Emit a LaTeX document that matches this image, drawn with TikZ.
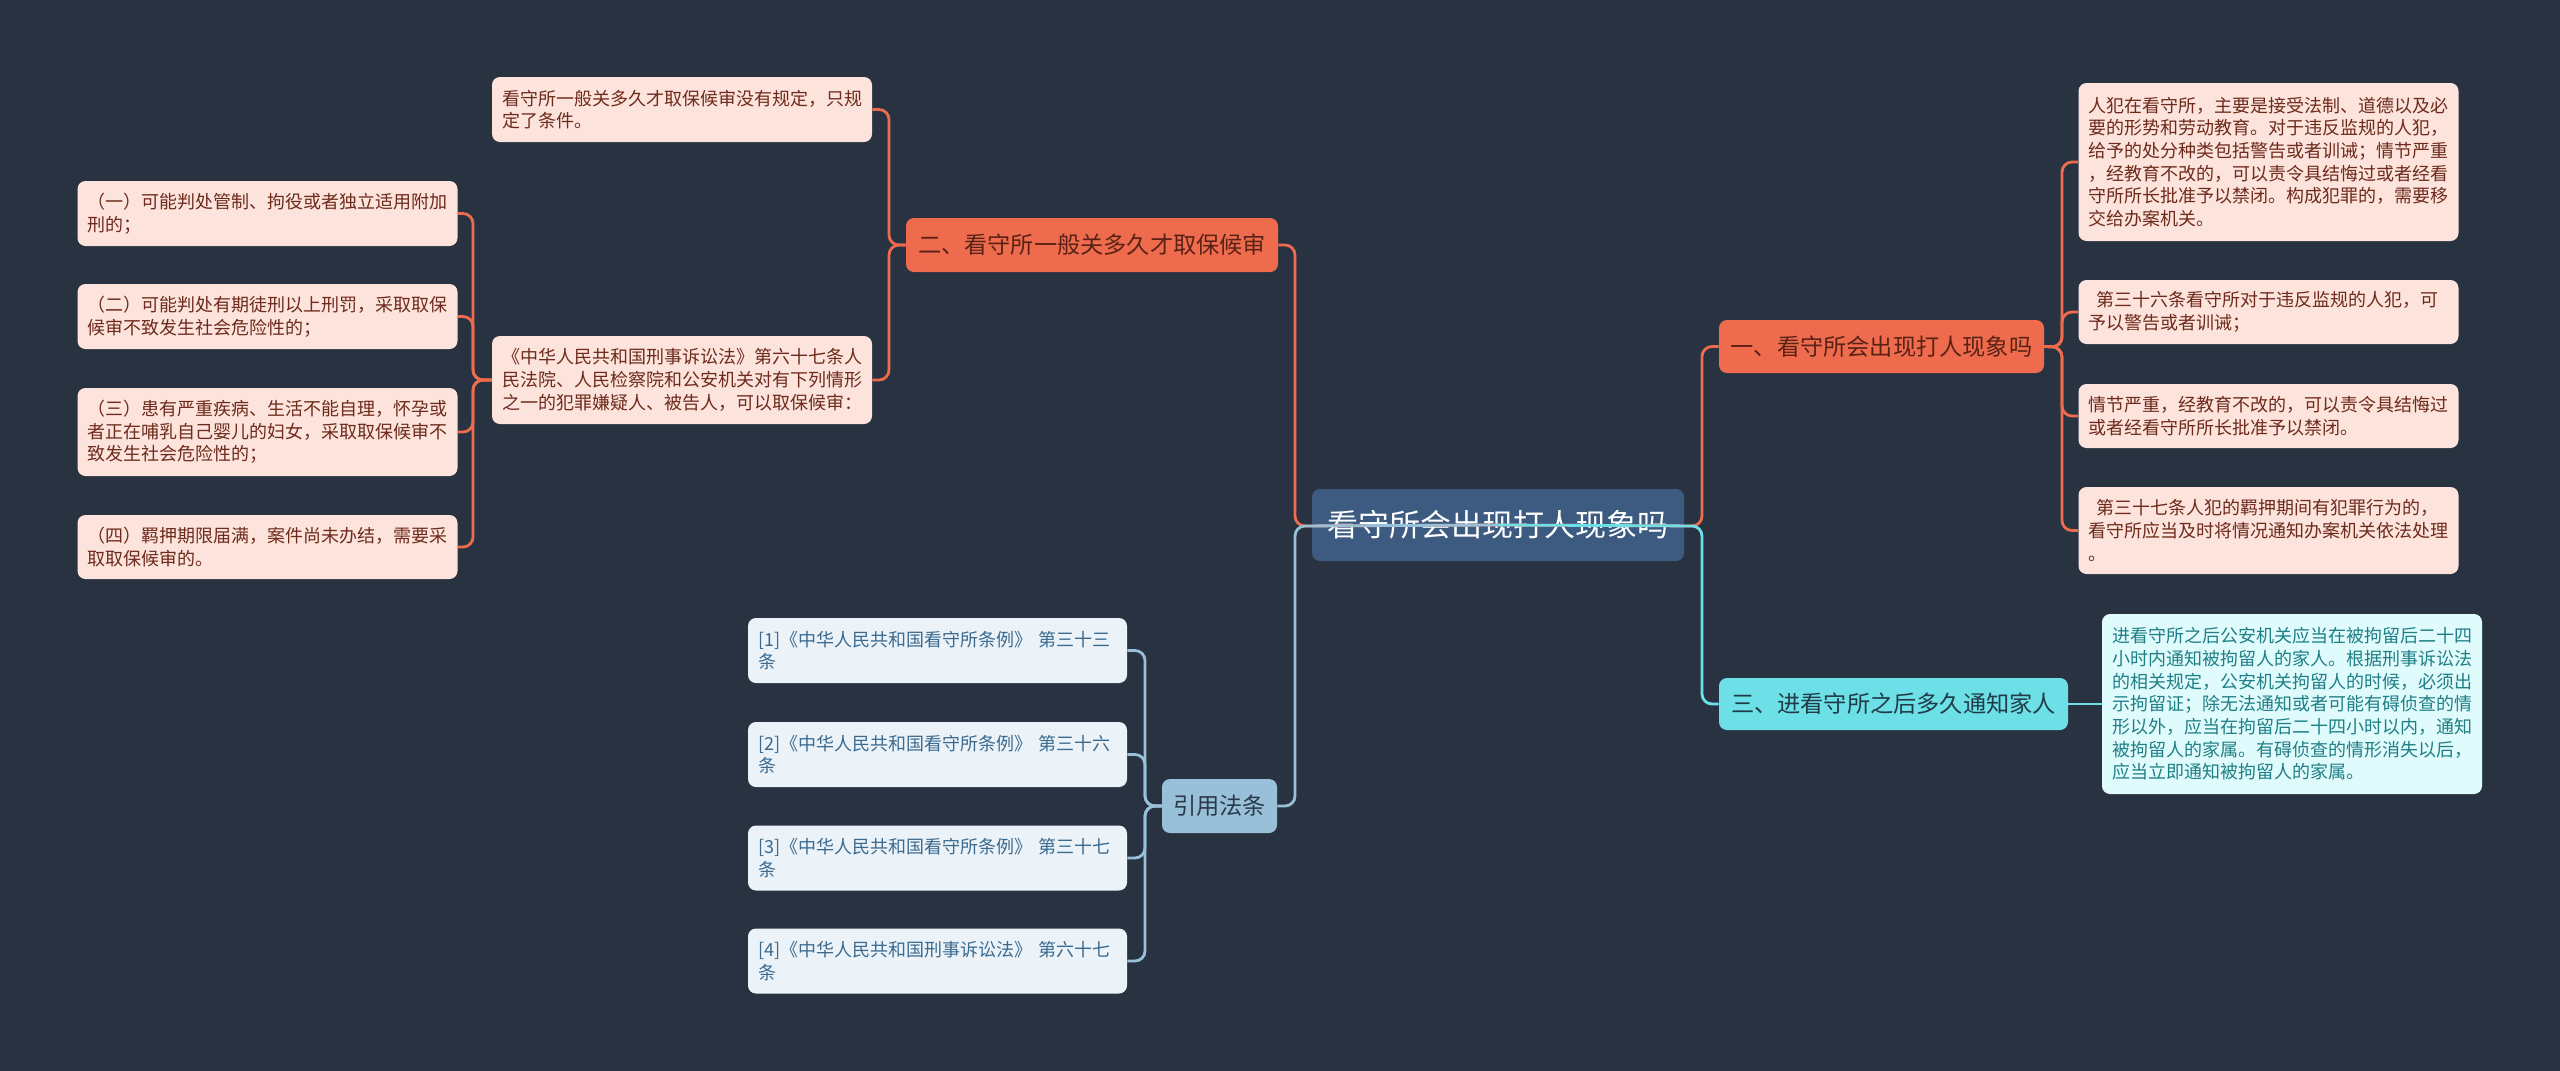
\documentclass[tikz,border=0pt]{standalone}
\usepackage{fontspec}
\newfontfamily\cjk{Noto Sans CJK SC}
\definecolor{bgc}{HTML}{293241}
\definecolor{orc}{HTML}{EE6C4D}
\definecolor{orleaf}{HTML}{FCE4DC}
\definecolor{ortext}{HTML}{6E2A1C}
\definecolor{ormain}{HTML}{5A2216}
\definecolor{cblue}{HTML}{3D5A80}
\definecolor{lblue}{HTML}{98C1D9}
\definecolor{lbtext}{HTML}{2B3A4B}
\definecolor{refleaf}{HTML}{EBF3F9}
\definecolor{reftext}{HTML}{3B6A8F}
\definecolor{cyanc}{HTML}{6DDFE6}
\definecolor{cytext}{HTML}{1F3C48}
\definecolor{cyleaf}{HTML}{E0FBFC}
\definecolor{cyltext}{HTML}{1F7F86}
\tikzset{
  base/.style={rounded corners=4pt, inner ysep=0pt, inner xsep=5pt},
  leafO/.style={base, fill=orleaf, text=ortext, align=left, text width=180pt,
    font=\cjk\fontsize{9pt}{11.35pt}\selectfont},
  leafR/.style={base, fill=refleaf, text=reftext, align=left, text width=179.5pt, minimum height=32.5pt,
    font=\cjk\fontsize{9pt}{11.35pt}\selectfont},
  leafC/.style={base, fill=cyleaf, text=cyltext, align=left, text width=180pt,
    font=\cjk\fontsize{9pt}{11.35pt}\selectfont},
  mainO/.style={base, fill=orc, text=ormain, font=\cjk\fontsize{11.6pt}{14pt}\selectfont},
  mainC/.style={base, fill=cyanc, text=cytext, font=\cjk\fontsize{11.6pt}{14pt}\selectfont},
  mainB/.style={base, fill=lblue, text=lbtext, font=\cjk\fontsize{11.6pt}{14pt}\selectfont},
  central/.style={base, fill=cblue, text=white, font=\cjk\fontsize{15.5pt}{18pt}\selectfont},
  lnO/.style={draw=orc, line width=1.4pt, rounded corners=5pt},
  lnB/.style={draw=lblue, line width=1.4pt, rounded corners=5pt},
  lnC/.style={draw=cyanc, line width=1.4pt, rounded corners=5pt},
}
\begin{document}
\begin{tikzpicture}[x=0.5pt,y=-0.5pt]
\fill[bgc] (0,0) rectangle (2560,1071);
\useasboundingbox (0,0) rectangle (2560,1071);

% central
\node[central, minimum width=186pt, minimum height=36pt] (C) at (1498,525) {看守所会出现打人现象吗};

% branch 二
\node[mainO, minimum width=186pt, minimum height=27pt] (N2) at (1092,245) {二、看守所一般关多久才取保候审};
\node[leafO, minimum height=32.5pt] (L2a) at (682,109.5) {看守所一般关多久才取保候审没有规定，只规\\定了条件。};
\node[leafO, minimum height=44pt] (L2b) at (682,380) {《中华人民共和国刑事诉讼法》第六十七条人\\民法院、人民检察院和公安机关对有下列情形\\之一的犯罪嫌疑人、被告人，可以取保候审：};
\node[leafO, minimum height=32.5pt] (L2b1) at (267.5,213.5) {（一）可能判处管制、拘役或者独立适用附加\\刑的；};
\node[leafO, minimum height=32.5pt] (L2b2) at (267.5,316.5) {（二）可能判处有期徒刑以上刑罚，采取取保\\候审不致发生社会危险性的；};
\node[leafO, minimum height=44pt] (L2b3) at (267.5,432) {（三）患有严重疾病、生活不能自理，怀孕或\\者正在哺乳自己婴儿的妇女，采取取保候审不\\致发生社会危险性的；};
\node[leafO, minimum height=32pt] (L2b4) at (267.5,547) {（四）羁押期限届满，案件尚未办结，需要采\\取取保候审的。};

% branch 一
\node[mainO, minimum width=162.5pt, minimum height=26.5pt] (N1) at (1881.5,346.5) {一、看守所会出现打人现象吗};
\node[leafO, minimum height=79pt] (R1) at (2268.5,162) {人犯在看守所，主要是接受法制、道德以及必\\要的形势和劳动教育。对于违反监规的人犯，\\给予的处分种类包括警告或者训诫；情节严重\\，经教育不改的，可以责令具结悔过或者经看\\守所所长批准予以禁闭。构成犯罪的，需要移\\交给办案机关。};
\node[leafO, minimum height=32pt] (R2) at (2268.5,312) {\hspace*{4pt}第三十六条看守所对于违反监规的人犯，可\\予以警告或者训诫；};
\node[leafO, minimum height=32pt] (R3) at (2268.5,416) {情节严重，经教育不改的，可以责令具结悔过\\或者经看守所所长批准予以禁闭。};
\node[leafO, minimum height=43.5pt] (R4) at (2268.5,530.5) {\hspace*{4pt}第三十七条人犯的羁押期间有犯罪行为的，\\看守所应当及时将情况通知办案机关依法处理\\。};

% branch 三
\node[mainC, minimum width=174.5pt, minimum height=26pt] (N3) at (1893.5,704) {三、进看守所之后多久通知家人};
\node[leafC, minimum height=90pt] (R5) at (2292,704) {进看守所之后公安机关应当在被拘留后二十四\\小时内通知被拘留人的家人。根据刑事诉讼法\\的相关规定，公安机关拘留人的时候，必须出\\示拘留证；除无法通知或者可能有碍侦查的情\\形以外，应当在拘留后二十四小时以内，通知\\被拘留人的家属。有碍侦查的情形消失以后，\\应当立即通知被拘留人的家属。};

% branch 引用法条
\node[mainB, minimum width=57.5pt, minimum height=27pt] (NR) at (1219.5,806) {引用法条};
\node[leafR] (F1) at (937.5,650.5) {[1]《中华人民共和国看守所条例》~第三十三\\条};
\node[leafR] (F2) at (937.5,754.5) {[2]《中华人民共和国看守所条例》~第三十六\\条};
\node[leafR] (F3) at (937.5,858) {[3]《中华人民共和国看守所条例》~第三十七\\条};
\node[leafR] (F4) at (937.5,961) {[4]《中华人民共和国刑事诉讼法》~第六十七\\条};

% trunk coordinates
\coordinate (tL) at (1295,526);
\coordinate (tR) at (1702,526);
\coordinate (t2) at (889,245);
\coordinate (t2b) at (473,380);
\coordinate (t1) at (2062,347);
\coordinate (tF) at (1145,806);

% connectors
\draw[lnO] (C.center) -- (tL) |- (N2.east);
\draw[lnO] (C.center) -- (tR) |- (N1.west);
\draw[lnB] (C.center) -- (tL) |- (NR.east);
\draw[lnC] (C.center) -- (tR) |- (N3.west);

\draw[lnO] (N2.west) -- (t2) |- (L2a.east);
\draw[lnO] (N2.west) -- (t2) |- (L2b.east);
\draw[lnO] (L2b.west) -- (t2b) |- (L2b1.east);
\draw[lnO] (L2b.west) -- (t2b) |- (L2b2.east);
\draw[lnO] (L2b.west) -- (t2b) |- (L2b3.east);
\draw[lnO] (L2b.west) -- (t2b) |- (L2b4.east);

\draw[lnO] (N1.east) -- (t1) |- (R1.west);
\draw[lnO] (N1.east) -- (t1) |- (R2.west);
\draw[lnO] (N1.east) -- (t1) |- (R3.west);
\draw[lnO] (N1.east) -- (t1) |- (R4.west);

\draw[lnC] (N3.east) -- (R5.west);

\draw[lnB] (NR.west) -- (tF) |- (F1.east);
\draw[lnB] (NR.west) -- (tF) |- (F2.east);
\draw[lnB] (NR.west) -- (tF) |- (F3.east);
\draw[lnB] (NR.west) -- (tF) |- (F4.east);
\end{tikzpicture}
\end{document}
